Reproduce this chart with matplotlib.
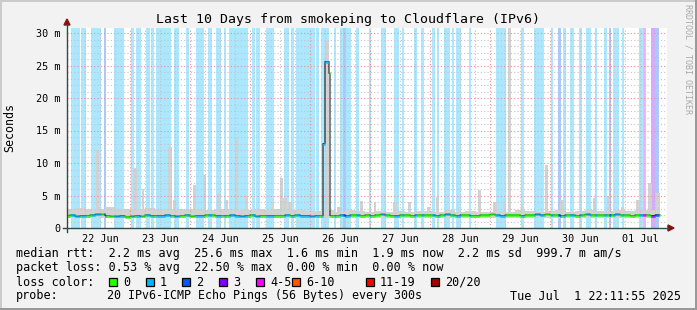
import numpy as np
import matplotlib.pyplot as plt
from matplotlib.lines import Line2D
from matplotlib.patches import Polygon, Rectangle

plt.rcParams['font.family'] = 'DejaVu Sans Mono'

W, H = 697, 310

# time axis in hours since 22 Jun 00:00
x_min, x_max = -1.2, 238.8
now_h = 236.0

day_labels = ['22 Jun', '23 Jun', '24 Jun', '25 Jun', '26 Jun',
              '27 Jun', '28 Jun', '29 Jun', '30 Jun', '01 Jul']

loss_names = ['0', '1', '2', '3', '4-5', '6-10', '11-19', '20/20']
loss_colors = ['#26ff00', '#00b8ff', '#0059ff', '#7e00ff',
               '#ff00ff', '#ff5500', '#ff0000', '#a10000']

# packet loss periods (hours), loss colour index
band_start = [0.3, 4.4, 8.4, 13.6, 17.6, 24.4, 26.4, 30.4, 32.4, 34.4,
              41.6, 46.4, 50.4, 55.2, 58.4, 61.6, 63.6, 72.8, 74.4, 78.4,
              85.6, 88.4, 90.4, 98.4, 100.4, 105.6, 108.0, 109.2, 110.4, 114.4,
              119.6, 124.4, 129.6, 132.8, 137.6, 140.4, 144.8, 146.8, 149.6, 152.8,
              154.4, 159.6, 170.4, 180.4, 185.6, 192.4, 195.2, 197.2, 200.0, 203.6,
              206.4, 210.0, 213.6, 215.6, 217.2, 220.8, 227.6, 229.2, 232.4, 234.0]
band_end = [4.0, 6.4, 12.4, 14.4, 21.6, 25.6, 28.4, 32.0, 33.6, 40.4,
            43.6, 47.6, 53.6, 56.8, 60.4, 62.4, 71.2, 74.0, 76.0, 81.6,
            87.6, 89.6, 98.0, 99.6, 103.6, 106.4, 109.2, 110.4, 112.4, 115.6,
            120.4, 126.4, 131.6, 133.6, 138.8, 141.6, 146.0, 147.6, 152.0, 153.6,
            156.4, 160.4, 174.4, 181.6, 189.6, 193.2, 196.4, 198.4, 201.6, 204.8,
            208.4, 210.8, 214.8, 216.4, 219.6, 221.6, 229.2, 230.4, 234.0, 235.6]
band_level = [1, 1, 1, 2, 1, 1, 1, 1, 1, 1,
              1, 1, 1, 1, 1, 1, 1, 1, 1, 1,
              1, 1, 1, 1, 1, 1, 1, 2, 1, 1,
              1, 1, 1, 1, 1, 1, 1, 1, 1, 1,
              1, 1, 1, 1, 1, 1, 2, 1, 1, 1,
              1, 1, 1, 2, 1, 1, 1, 4, 3, 2]

# median rtt (ms), 2 hour steps from 21 Jun 22:00
med_t0, med_step = -2.0, 2.0
median = [1.9, 2.0, 1.8, 1.9, 1.9, 2.0, 2.1, 2.1, 1.9, 1.8, 1.8, 1.9,
          1.7, 1.8, 1.9, 1.8, 2.0, 1.9, 1.9, 1.9, 2.0, 1.9, 1.8, 1.9,
          2.0, 1.8, 1.9, 1.9, 2.0, 2.0, 1.9, 1.9, 1.9, 2.0, 1.9, 1.8,
          1.9, 2.0, 1.8, 1.9, 1.9, 1.9, 1.9, 1.9, 2.0, 1.9, 2.0, 1.9,
          1.9, 1.8, 1.9, 1.9, 2.0, 1.9, 1.9, 2.0, 1.9, 2.0, 2.0, 1.9,
          2.0, 1.9, 2.0, 2.1, 2.0, 1.9, 1.9, 2.0, 2.0, 1.9, 2.0, 2.0,
          2.0, 2.0, 1.9, 2.0, 2.1, 2.0, 1.9, 2.0, 2.0, 1.9, 1.9, 2.0,
          2.0, 2.1, 2.0, 1.9, 2.0, 2.0, 2.0, 1.9, 2.0, 2.0, 2.1, 2.0,
          2.1, 2.0, 2.0, 1.9, 2.0, 2.0, 1.9, 2.0, 2.1, 2.0, 2.0, 2.0,
          2.0, 2.0, 2.1, 2.0, 2.0, 1.9, 2.0, 2.0, 2.0, 1.9, 2.0, 2.0]

# the 26 Jun jump
jump_start = [101.2, 102.0, 103.6]
jump_end = [102.0, 103.6, 104.0]
jump_value = [13.0, 25.6, 23.8]

# smoke (top of ping spread), 4 hour steps from 21 Jun 22:00
smoke_t0, smoke_step = -2.0, 4.0
smoke_floor = 1.6
smoke_top = [3.0, 3.1, 2.9, 3.0, 3.2, 2.9,
             3.0, 2.8, 3.1, 2.9, 3.0, 3.0,
             2.9, 3.0, 2.8, 3.0, 2.9, 2.8,
             2.8, 3.0, 2.7, 2.9, 2.8, 2.7,
             2.6, 2.6, 2.8, 2.5, 2.7, 2.6,
             2.5, 2.6, 2.5, 2.6, 2.5, 2.6,
             2.6, 2.5, 2.7, 2.5, 2.6, 2.5,
             2.5, 2.6, 2.5, 2.7, 2.6, 2.5,
             2.6, 2.7, 2.5, 2.6, 2.8, 2.6,
             2.6, 2.7, 2.6, 2.8, 2.7, 2.6]

spike_start = [10.3, 25.2, 28.8, 39.2, 41.2, 49.2, 53.2, 58.8, 62.0, 66.0,
               70.0, 80.8, 84.0, 85.2, 87.2, 102.0, 106.8, 116.0, 121.6, 129.2,
               135.2, 142.8, 146.4, 163.2, 169.2, 173.2, 175.2, 180.4, 190.0, 196.0,
               209.2, 214.8, 220.4, 226.4, 231.2, 234.0]
spike_end = [11.6, 26.8, 29.6, 40.8, 42.4, 50.4, 54.4, 60.0, 63.2, 67.2,
             71.2, 81.6, 85.2, 86.8, 88.8, 103.6, 108.8, 117.2, 122.4, 130.8,
             136.4, 144.0, 147.6, 164.4, 170.8, 174.4, 176.4, 181.2, 191.2, 197.6,
             210.4, 216.0, 221.6, 228.0, 232.8, 236.0]
spike_top = [12.0, 9.2, 6.0, 12.5, 4.3, 6.6, 8.2, 5.4, 4.3, 13.8,
             5.0, 4.0, 7.7, 4.6, 4.0, 28.7, 3.2, 4.2, 4.0, 4.0,
             4.0, 3.3, 4.8, 5.8, 4.0, 4.0, 31.0, 3.5, 9.7, 4.3,
             4.6, 5.0, 3.2, 4.3, 7.0, 5.4]

legend_rtt = 'median rtt:  2.2 ms avg  25.6 ms max  1.6 ms min  1.9 ms now  2.2 ms sd  999.7 m am/s'
legend_loss = 'packet loss: 0.53 % avg  22.50 % max  0.00 % min  0.00 % now'
probe_text = '20 IPv6-ICMP Echo Pings (56 Bytes) every 300s'
stamp_text = 'Tue Jul  1 22:11:55 2025'


def fx(x):
    return x / W


def fy(y):
    return 1 - y / H


fig = plt.figure(figsize=(W / 100, H / 100), dpi=100, facecolor='#f2f2f2')
ax = fig.add_axes([fx(67), fy(228), 600 / W, 200 / H])
ax.set_facecolor('white')
ax.set_xlim(x_min, x_max)
ax.set_ylim(0, 200 / 6.5)

# loss background
for s, e, lv in zip(band_start, band_end, band_level):
    ax.axvspan(s, e, color=loss_colors[lv], alpha=0.33, lw=0, zorder=1)

# smoke
smoke_c = '#d2d2d2'
st = smoke_t0 + smoke_step * np.arange(len(smoke_top))
sw = np.minimum(st + smoke_step, now_h) - st
ax.bar(st, np.array(smoke_top) - smoke_floor, width=sw, bottom=smoke_floor,
       align='edge', color=smoke_c, lw=0, zorder=2)
ax.bar(spike_start, np.array(spike_top) - smoke_floor,
       width=np.array(spike_end) - np.array(spike_start), bottom=smoke_floor,
       align='edge', color=smoke_c, lw=0, zorder=2)

# grid
for h in range(6, 238, 6):
    c = '#f09090' if h % 24 == 0 else '#c4c4c4'
    ax.axvline(h, color=c, lw=0.8, ls=(0, (1, 2)), zorder=3)
for v in range(1, 31):
    c = '#f09090' if v % 5 == 0 else '#c4c4c4'
    ax.axhline(v, color=c, lw=0.8, ls=(0, (1, 2)), zorder=3)

# median line coloured by loss
cols = np.arange(x_min, now_h, 0.4)
idx = ((cols - med_t0) // med_step).astype(int)
med = np.array(median)[idx]
for s, e, v in zip(jump_start, jump_end, jump_value):
    med[(cols >= s - 1e-6) & (cols < e - 1e-6)] = v
ccol = [loss_colors[0]] * len(cols)
for s, e, lv in zip(band_start, band_end, band_level):
    for i, t in enumerate(cols):
        if s - 1e-6 <= t < e - 1e-6:
            ccol[i] = loss_colors[lv]
ax.step(np.append(cols, now_h), np.append(med, med[-1]), where='post',
        color='black', lw=0.7, zorder=4)
ax.hlines(med, cols, cols + 0.4, colors=ccol, lw=2.0, zorder=5)

ax.set_xticks([12 + 24 * i for i in range(10)], day_labels)
ax.set_yticks(range(0, 31, 5), ['0'] + ['%d m' % v for v in range(5, 31, 5)])
ax.tick_params(axis='x', length=0, pad=4, labelsize=7.3)
ax.tick_params(axis='y', length=0, pad=5, labelsize=7.3)
for sp in ax.spines.values():
    sp.set_visible(False)

# axes with arrows
axis_c = '#2c4d43'
fig.add_artist(Line2D([fx(67), fx(67)], [fy(232), fy(24)], color=axis_c, lw=1))
fig.add_artist(Line2D([fx(63), fx(668)], [fy(228), fy(228)], color=axis_c, lw=1))
fig.add_artist(Polygon([(fx(64), fy(25)), (fx(70), fy(25)), (fx(67), fy(19))],
                       closed=True, color='#8b1010'))
fig.add_artist(Polygon([(fx(668), fy(225)), (fx(668), fy(231)), (fx(674), fy(228))],
                       closed=True, color='#8b1010'))

# texts
fig.text(fx(348), fy(19), 'Last 10 Days from smokeping to Cloudflare (IPv6)',
         ha='center', va='center', fontsize=9.5)
fig.text(fx(10), fy(128), 'Seconds', rotation=90, ha='center', va='center',
         fontsize=8.4)
fig.text(fx(688), fy(59), 'RRDTOOL / TOBI OETIKER', rotation=270,
         ha='center', va='center', fontsize=6, color='#a8a8a8')

fs = 8.5
rows = [254, 268, 282, 296]
fig.text(fx(16), fy(rows[0]), legend_rtt, va='center', fontsize=fs)
fig.text(fx(16), fy(rows[1]), legend_loss, va='center', fontsize=fs)
fig.text(fx(16), fy(rows[2]), 'loss color:', va='center', fontsize=fs)
box_x = [109, 146, 182, 219, 256, 292, 366, 431]
for bx, name, c in zip(box_x, loss_names, loss_colors):
    fig.add_artist(Rectangle((fx(bx), fy(rows[2] + 4)), 8 / W, 8 / H,
                             facecolor=c, edgecolor='black', lw=0.9))
    fig.text(fx(bx + 14), fy(rows[2]), name, va='center', fontsize=fs)
fig.text(fx(16), fy(rows[3]), 'probe:', va='center', fontsize=fs)
fig.text(fx(107), fy(rows[3]), probe_text, va='center', fontsize=8.4)
fig.text(fx(681), fy(rows[3]), stamp_text, ha='right', va='center', fontsize=fs)

# frame
fig.add_artist(Rectangle((0, fy(2)), 1, 2 / H, color='#cbcbcb', lw=0))
fig.add_artist(Rectangle((0, 0), 2 / W, 1, color='#cbcbcb', lw=0))
fig.add_artist(Rectangle((0, 0), 1, 2 / H, color='#999999', lw=0))
fig.add_artist(Rectangle((fx(W - 2), 0), 2 / W, 1, color='#999999', lw=0))

fig.savefig('out.png', dpi=100, facecolor=fig.get_facecolor())
